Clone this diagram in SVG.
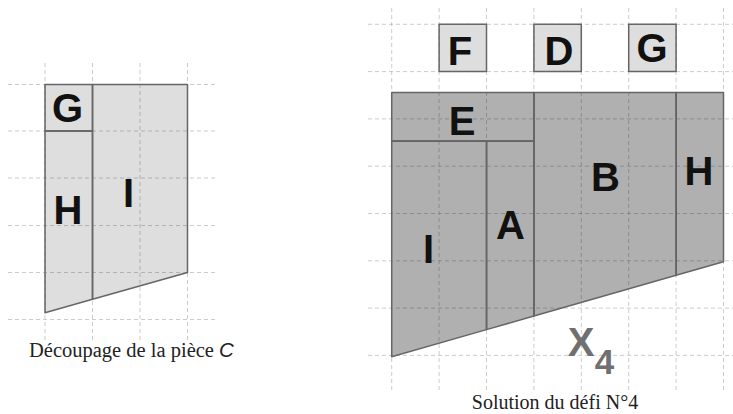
<svg xmlns="http://www.w3.org/2000/svg" width="733" height="414" viewBox="0 0 733 414">
<style>
.grid line{stroke:#9a9a9a;stroke-opacity:0.5;stroke-width:1;stroke-dasharray:4 3}
.lt{fill:#000;fill-opacity:0.13;stroke:#666;stroke-width:1.5;stroke-linejoin:round}
.dk{fill:#000;fill-opacity:0.31;stroke:#666;stroke-width:1.5;stroke-linejoin:round}
.lbl{font-family:"Liberation Sans",Arial,sans-serif;font-weight:bold;font-size:40px;fill:#111;text-anchor:middle}
.cap{font-family:"Liberation Serif","Times New Roman",serif;font-size:20px;fill:#222}
</style>
<rect width="733" height="414" fill="#fff"/>
<g id="grid-left" class="grid">
<line x1="45" y1="63" x2="45" y2="340"/>
<line x1="92.5" y1="63" x2="92.5" y2="340"/>
<line x1="140" y1="63" x2="140" y2="340"/>
<line x1="187.5" y1="63" x2="187.5" y2="340"/>
<line x1="8" y1="84.5" x2="217" y2="84.5"/>
<line x1="8" y1="131" x2="217" y2="131"/>
<line x1="8" y1="178" x2="217" y2="178"/>
<line x1="8" y1="225.5" x2="217" y2="225.5"/>
<line x1="8" y1="272.5" x2="217" y2="272.5"/>
<line x1="8" y1="319.5" x2="217" y2="319.5"/>
</g>
<g id="grid-right" class="grid">
<line x1="391.7" y1="8" x2="391.7" y2="393"/>
<line x1="439.1" y1="8" x2="439.1" y2="393"/>
<line x1="486.5" y1="8" x2="486.5" y2="393"/>
<line x1="533.9" y1="8" x2="533.9" y2="393"/>
<line x1="581.3" y1="8" x2="581.3" y2="393"/>
<line x1="628.7" y1="8" x2="628.7" y2="393"/>
<line x1="676.1" y1="8" x2="676.1" y2="393"/>
<line x1="723.5" y1="8" x2="723.5" y2="393"/>
<line x1="368" y1="24.3" x2="733" y2="24.3"/>
<line x1="368" y1="71.6" x2="733" y2="71.6"/>
<line x1="368" y1="118.9" x2="733" y2="118.9"/>
<line x1="368" y1="166.2" x2="733" y2="166.2"/>
<line x1="368" y1="213.5" x2="733" y2="213.5"/>
<line x1="368" y1="260.8" x2="733" y2="260.8"/>
<line x1="368" y1="308.1" x2="733" y2="308.1"/>
<line x1="368" y1="355.4" x2="733" y2="355.4"/>
</g>
<g id="left-G"><rect class="lt" x="45" y="84.5" width="47.5" height="46.5"/><text class="lbl" x="67.5" y="122">G</text></g>
<g id="left-H"><polygon class="lt" points="45,131 92.5,131 92.5,299.3 45,312.7"/><text class="lbl" x="68" y="224">H</text></g>
<g id="left-I"><polygon class="lt" points="92.5,84.5 187.5,84.5 187.5,272.5 92.5,299.3"/><text class="lbl" x="128.5" y="206.5">I</text></g>
<text class="cap" x="29" y="357" style="font-size:20.5px">Découpage de la pièce <tspan font-family="'Liberation Sans',Arial,sans-serif" font-style="italic">C</tspan></text>
<g id="F"><rect class="lt" x="439.1" y="24.3" width="47.4" height="47.3"/><text class="lbl" x="460" y="65">F</text></g>
<g id="D"><rect class="lt" x="533.9" y="24.3" width="47.4" height="47.3"/><text class="lbl" x="559" y="65">D</text></g>
<g id="G"><rect class="lt" x="628.7" y="24.3" width="47.4" height="47.3"/><text class="lbl" x="652" y="62">G</text></g>
<g id="E"><rect class="dk" x="391.7" y="92.5" width="142.2" height="48.5"/><text class="lbl" x="462" y="135">E</text></g>
<g id="I"><polygon class="dk" points="391.7,141 486.5,141 486.5,329.6 391.7,356.7"/><text class="lbl" x="428.5" y="263">I</text></g>
<g id="A"><polygon class="dk" points="486.5,141 533.9,141 533.9,316 486.5,329.6"/><text class="lbl" x="510.5" y="239">A</text></g>
<g id="B"><polygon class="dk" points="533.9,92.5 676.1,92.5 676.1,275.3 533.9,316"/><text class="lbl" x="605.5" y="191">B</text></g>
<g id="H"><polygon class="dk" points="676.1,92.5 723.5,92.5 723.5,261.7 676.1,275.3"/><text class="lbl" x="699" y="185">H</text></g>
<g id="X4"><text class="lbl" x="581" y="355.5" style="fill:#707070">X</text><text class="lbl" x="604.5" y="374" style="fill:#707070;font-size:35px">4</text></g>
<text class="cap" x="555" y="409" text-anchor="middle">Solution du défi N°4</text>
</svg>
